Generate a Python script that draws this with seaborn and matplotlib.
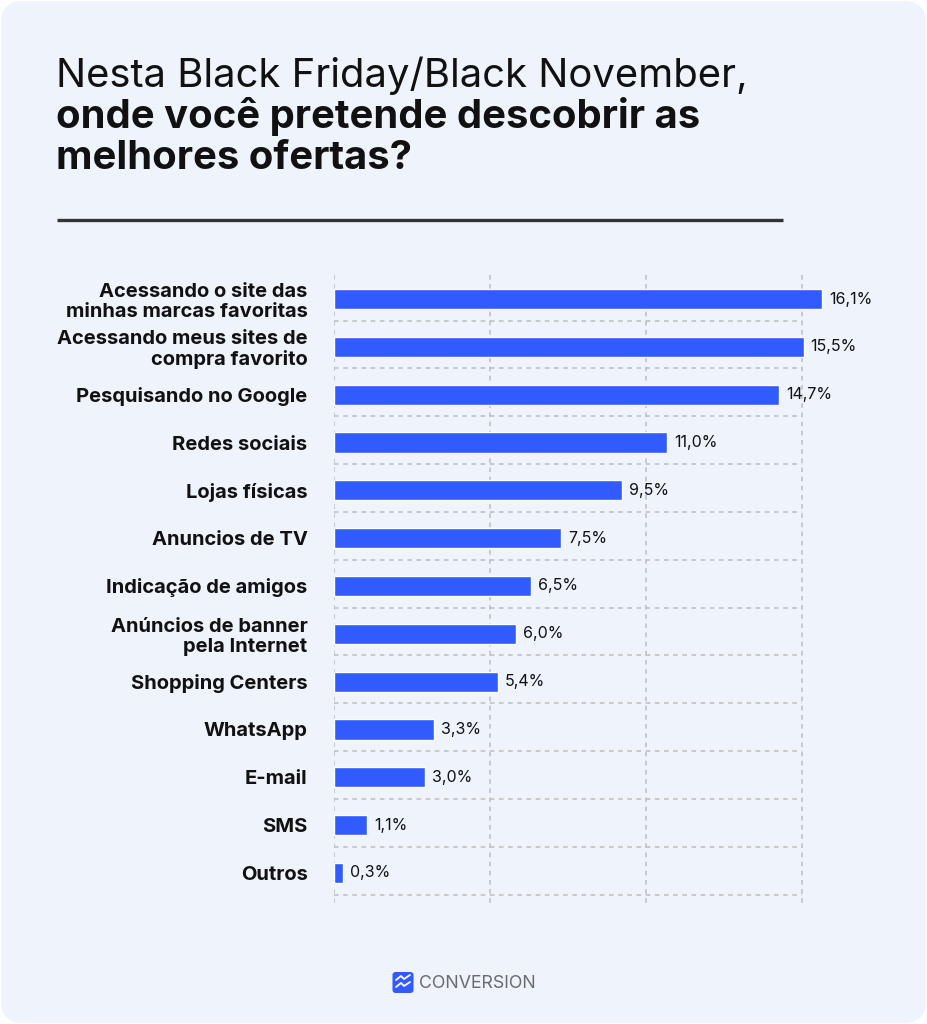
import matplotlib
matplotlib.use("Agg")
import matplotlib.pyplot as plt
import seaborn as sns
import pandas as pd
import numpy as np
from matplotlib.patches import FancyBboxPatch

# ---------------- data ----------------
categories = [
    "Acessando o site das\nminhas marcas favoritas",
    "Acessando meus sites de\ncompra favorito",
    "Pesquisando no Google",
    "Redes sociais",
    "Lojas físicas",
    "Anuncios de TV",
    "Indicação de amigos",
    "Anúncios de banner\npela Internet",
    "Shopping Centers",
    "WhatsApp",
    "E-mail",
    "SMS",
    "Outros",
]
values = [16.1, 15.5, 14.7, 11.0, 9.5, 7.5, 6.5, 6.0, 5.4, 3.3, 3.0, 1.1, 0.3]
value_labels = [f"{v:.1f}%".replace(".", ",") for v in values]

title_regular = "Nesta Black Friday/Black November,"
title_bold = ["onde você pretende descobrir as", "melhores ofertas?"]
brand = "CONVERSION"

# ---------------- style ----------------
BG = "#EEF3FC"
BAR = "#315BFF"
TXT = "#111111"
GRID = "#BDBDBD"
FONT = ["Inter", "DejaVu Sans"]

sns.set_theme(style="white")
plt.rcParams["font.family"] = FONT

W, H = 927, 1024
fig = plt.figure(figsize=(W / 100, H / 100), dpi=100, facecolor="white")

# background card (pixel coordinates)
bg = fig.add_axes([0, 0, 1, 1], zorder=0)
bg.set_xlim(0, W)
bg.set_ylim(0, H)
bg.axis("off")
bg.add_patch(FancyBboxPatch((1, 1), W - 2, H - 2,
                            boxstyle="round,pad=0,rounding_size=22",
                            facecolor=BG, edgecolor="none"))

# title
bg.text(56, H - 87, title_regular, fontsize=28.8, color=TXT,
        ha="left", va="baseline")
for i, line in enumerate(title_bold):
    bg.text(56, H - 128 - 41 * i, line, fontsize=28.8, fontweight="bold",
            color=TXT, ha="left", va="baseline")
# rule under title
bg.plot([57, 783], [H - 220, H - 220], color="#333333", lw=2.4,
        solid_capstyle="butt")

# brand logo
bg.add_patch(FancyBboxPatch((392.5, H - 993), 21, 21,
                            boxstyle="round,pad=0,rounding_size=3",
                            facecolor=BAR, edgecolor="none"))
bg.plot([396, 401, 404, 410], [H - 980, H - 976, H - 979, H - 975],
        color="white", lw=1.3)
bg.plot([396, 401, 404, 410], [H - 987, H - 983, H - 986, H - 982],
        color="white", lw=1.3)
bg.text(419, H - 983, brand, fontsize=12.8, color="#6B6B6B",
        ha="left", va="center")

# ---------------- chart ----------------
px_per_unit_x = 30.3
x_max = 19.0
left_px = 334
row_px = 47.83
y_top_lim, y_bot_lim = -0.7, 13.0
top_px = 299 + y_top_lim * row_px
bot_px = 873 + (y_bot_lim - 12) * row_px
ax = fig.add_axes([left_px / W, 1 - bot_px / H,
                   x_max * px_per_unit_x / W, (bot_px - top_px) / H],
                  zorder=1)
ax.set_facecolor("none")

df = pd.DataFrame({"cat": categories, "val": values})
sns.barplot(data=df, x="val", y="cat", orient="h", color=BAR,
            saturation=1, width=0.42, ax=ax, zorder=3)

ax.set_xlim(0, x_max)
ax.set_ylim(y_bot_lim, y_top_lim)

# dashed grid
grid_x = np.linspace(0, 15.45, 4)
n = len(categories)
ax.vlines(grid_x, -0.5, n - 1 + 0.67, colors=GRID, linestyles=(0, (3, 3)),
          lw=1.1, zorder=1)
ax.hlines(np.arange(n) + 0.45, 0, grid_x[-1], colors=GRID,
          linestyles=(0, (3, 3)), lw=1.1, zorder=1)

# value labels
ax.bar_label(ax.containers[0], labels=value_labels, padding=5,
             fontsize=11.5, color=TXT)

ax.set_xlabel("")
ax.set_ylabel("")
ax.set_xticks([])
ax.tick_params(axis="y", length=0, pad=19)
for lab in ax.get_yticklabels():
    lab.set_fontweight("bold")
    lab.set_fontsize(14.5)
    lab.set_color(TXT)
    lab.set_linespacing(1.12)
for s in ax.spines.values():
    s.set_visible(False)

fig.savefig("out.png", dpi=100, facecolor="white")
